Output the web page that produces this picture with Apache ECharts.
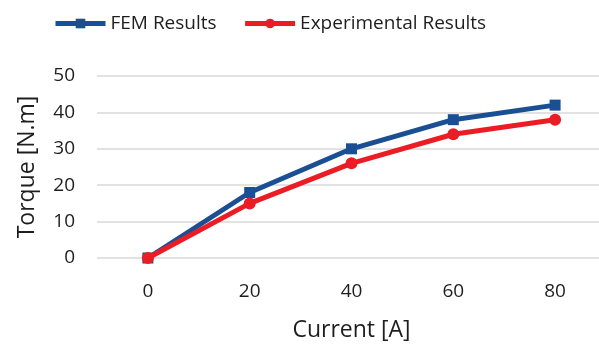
<!DOCTYPE html>
<html>
<head>
<meta charset="utf-8">
<script src="https://cdn.jsdelivr.net/npm/echarts@6/dist/echarts.min.js"></script>
<style>
  html, body { margin: 0; padding: 0; background: #fff; }
  #chart { width: 599px; height: 346px; }
</style>
</head>
<body>
<div id="chart"></div>
<script>
// Torque vs. current: FEM prediction and measured values
const currents = ['0', '20', '40', '60', '80'];
const femTorque = [0, 18, 30, 38, 42];
const expTorque = [0, 15, 26, 34, 38];
const yTicks = { min: 0, max: 50, interval: 10 };

const FONT = '"Open Sans", sans-serif';
const TEXT = '#1e1e1e';
const chart = echarts.init(document.getElementById('chart'), null, { renderer: 'canvas' });

chart.setOption({
  animation: false,
  backgroundColor: '#ffffff',
  legend: {
    left: 48,
    top: 9,
    itemWidth: 50,
    itemHeight: 12,
    itemGap: 26,
    lineStyle: { width: 5 },
    textStyle: { fontFamily: FONT, fontSize: 19, color: TEXT },
    data: ['FEM Results', 'Experimental Results']
  },
  grid: { left: 97, top: 76, width: 509, height: 182, outerBoundsMode: 'none', containLabel: false },
  xAxis: {
    type: 'category',
    data: currents,
    boundaryGap: true,
    axisLine: { show: false },
    axisTick: { show: false },
    axisLabel: { fontFamily: FONT, fontSize: 19, color: TEXT, margin: 24 },
    name: 'Current [A]',
    nameLocation: 'middle',
    nameGap: 61,
    nameTextStyle: { fontFamily: FONT, fontSize: 23, color: TEXT }
  },
  yAxis: {
    type: 'value',
    min: yTicks.min,
    max: yTicks.max,
    interval: yTicks.interval,
    axisLine: { show: false },
    axisTick: { show: false },
    splitLine: { lineStyle: { color: '#d9d9d9', width: 1.5 } },
    axisLabel: { fontFamily: FONT, fontSize: 19, color: TEXT, margin: 22 },
    name: 'Torque [N.m]',
    nameLocation: 'middle',
    nameGap: 58,
    nameTextStyle: { fontFamily: FONT, fontSize: 23, color: TEXT }
  },
  series: [
    {
      name: 'FEM Results',
      type: 'line',
      data: femTorque,
      symbol: 'rect',
      symbolSize: 11,
      itemStyle: { color: '#1b4f93' },
      lineStyle: { color: '#1b4f93', width: 5 },
      z: 2
    },
    {
      name: 'Experimental Results',
      type: 'line',
      data: expTorque,
      symbol: 'circle',
      symbolSize: 12,
      itemStyle: { color: '#ec1c24' },
      lineStyle: { color: '#ec1c24', width: 5 },
      z: 3
    }
  ]
});
</script>
</body>
</html>
